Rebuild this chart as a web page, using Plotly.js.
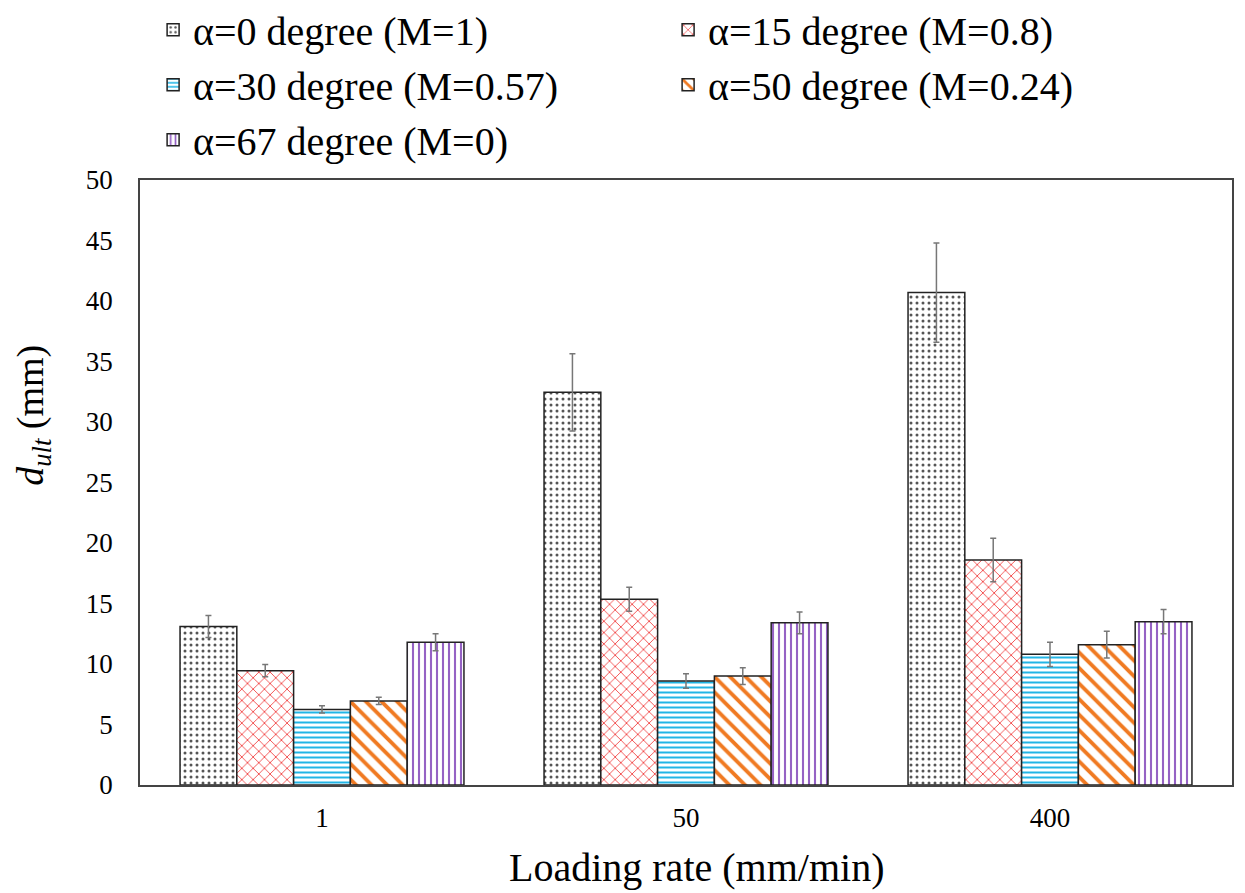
<!DOCTYPE html>
<html>
<head>
<meta charset="utf-8">
<script src="https://cdn.plot.ly/plotly-3.0.1.min.js"></script>
<style>html,body{margin:0;padding:0;background:#fff;}</style>
</head>
<body>
<div id="chart" style="width:1245px;height:893px;"></div>
<script>
const categories = ["1", "50", "400"];
const seriesNames = ["α=0 degree (M=1)", "α=15 degree (M=0.8)", "α=30 degree (M=0.57)", "α=50 degree (M=0.24)", "α=67 degree (M=0)"];
const a0 = [13.1, 32.45, 40.7];
const a0err = [0.9, 3.2, 4.1];
const a15 = [9.45, 15.35, 18.6];
const a15err = [0.5, 1.0, 1.8];
const a30 = [6.25, 8.6, 10.8];
const a30err = [0.3, 0.6, 1.0];
const a50 = [6.95, 9.0, 11.6];
const a50err = [0.3, 0.7, 1.1];
const a67 = [11.8, 13.4, 13.5];
const a67err = [0.7, 0.9, 1.0];
const xTitle = "Loading rate (mm/min)";
const yTitle = "<i>d</i><sub><i>ult</i></sub> (mm)";

const values = [a0, a15, a30, a50, a67];
const errs = [a0err, a15err, a30err, a50err, a67err];
const patterns = [
  {shape: ".", fgcolor: "#555555", size: 6, solidity: 0.2},
  {shape: "x", fgcolor: "#f03c3c", size: 8, solidity: 0.2},
  {shape: "-", fgcolor: "#22b5e6", size: 5, solidity: 0.4},
  {shape: "\\", fgcolor: "#f07a22", size: 11, solidity: 0.35},
  {shape: "|", fgcolor: "#9562c4", size: 6, solidity: 0.35}
];
const SERIF = "Liberation Serif";

const traces = values.map((v, i) => ({
  type: "bar",
  name: seriesNames[i],
  x: categories,
  y: v,
  marker: {
    color: "white",
    line: {color: "#222222", width: 1.5},
    pattern: Object.assign({bgcolor: "white", fillmode: "replace"}, patterns[i])
  },
  error_y: {type: "data", array: errs[i], visible: true, color: "#777777", thickness: 1.5, width: 3}
}));

const layout = {
  width: 1245, height: 893,
  margin: {l: 140, r: 13, t: 180, b: 108, autoexpand: false},
  paper_bgcolor: "white", plot_bgcolor: "white",
  barmode: "group", bargap: 0.22, bargroupgap: 0,
  font: {family: SERIF, color: "#000"},
  showlegend: true,
  legend: {
    orientation: "h", x: 0.012, y: 1.302, xref: "paper", yref: "paper",
    xanchor: "left", yanchor: "top",
    bgcolor: "rgba(0,0,0,0)",
    entrywidth: 470, entrywidthmode: "pixels",
    font: {size: 40, family: SERIF},
    tracegroupgap: 0, itemwidth: 30
  },
  xaxis: {
    type: "category",
    showline: true, linecolor: "#444", linewidth: 1.5, mirror: true,
    ticks: "", tickfont: {size: 27, family: SERIF}, showgrid: false,
    ticklabelstandoff: 8
  },
  yaxis: {
    range: [0, 50], dtick: 5,
    showline: true, linecolor: "#444", linewidth: 1.5, mirror: true,
    ticks: "", tickfont: {size: 27, family: SERIF}, showgrid: false, zeroline: false,
    ticklabelstandoff: 20
  },
  annotations: [
    {text: xTitle, xref: "paper", yref: "paper", x: 0.51, y: -0.137, xanchor: "center", yanchor: "middle",
     showarrow: false, font: {size: 40, family: SERIF}},
    {text: yTitle, xref: "paper", yref: "y", x: -0.098, y: 30.6, xanchor: "center", yanchor: "middle",
     textangle: -90, showarrow: false, font: {size: 38, family: SERIF}}
  ]
};

Plotly.newPlot("chart", traces, layout, {displayModeBar: false});
</script>
</body>
</html>
